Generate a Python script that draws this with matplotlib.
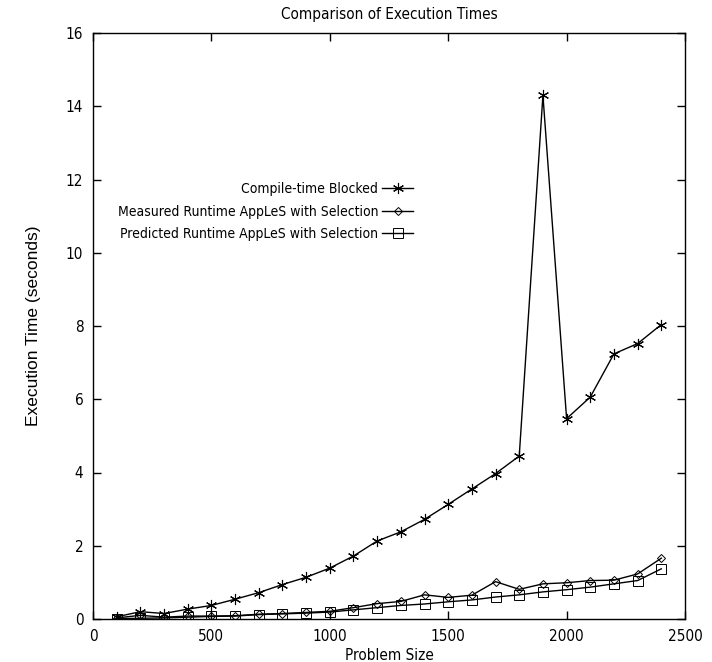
import numpy as np
import matplotlib
matplotlib.use("Agg")
import matplotlib.pyplot as plt
from matplotlib import font_manager

# problem sizes
sizes = [100, 200, 300, 400, 500, 600, 700, 800, 900, 1000, 1100, 1200,
         1300, 1400, 1500, 1600, 1700, 1800, 1900, 2000, 2100, 2200, 2300, 2400]

compile_blocked = [0.06, 0.2, 0.15, 0.27, 0.37, 0.54, 0.72, 0.94, 1.14, 1.39, 1.72, 2.13,
                   2.38, 2.72, 3.13, 3.55, 3.97, 4.45, 14.3, 5.47, 6.06, 7.24, 7.52, 8.04]
measured_sel = [0.03, 0.1, 0.05, 0.08, 0.08, 0.09, 0.13, 0.15, 0.18, 0.21, 0.31, 0.42,
                0.48, 0.66, 0.59, 0.65, 1.02, 0.81, 0.96, 0.99, 1.05, 1.06, 1.23, 1.66]
predicted_sel = [0.01, 0.02, 0.03, 0.05, 0.07, 0.08, 0.12, 0.14, 0.16, 0.19, 0.25, 0.31,
                 0.37, 0.41, 0.47, 0.52, 0.6, 0.66, 0.74, 0.8, 0.87, 0.96, 1.05, 1.37]

labels = ["Compile-time Blocked",
          "Measured Runtime AppLeS with Selection",
          "Predicted Runtime AppLeS with Selection"]

# narrow look like the old gnuplot output
narrow_fp = font_manager.FontProperties(family="DejaVu Sans", stretch="condensed", size=11)
legend_fp = font_manager.FontProperties(family="DejaVu Sans", stretch="condensed", size=10)

fig = plt.figure(figsize=(7.12, 6.62), dpi=100)
ax = fig.add_axes([93 / 712, 1 - 619 / 662, (685 - 93) / 712, (619 - 33) / 662])

ax.plot(sizes, compile_blocked, color='black', linewidth=1, marker=(6, 2, 0),
        markersize=8, mew=0.8, label=labels[0])
ax.plot(sizes, measured_sel, color='black', linewidth=1, marker='D', markersize=4.5,
        mfc='none', mew=0.7, label=labels[1])
ax.plot(sizes, predicted_sel, color='black', linewidth=1, marker='s', markersize=6.5,
        mfc='none', mew=0.7, label=labels[2])

ax.set_xlim(0, 2500)
ax.set_ylim(0, 16)
ax.set_xticks(np.arange(0, 2501, 500))
ax.set_yticks(np.arange(0, 17, 2))
ax.tick_params(direction='in', length=6, width=1, top=True, right=True, pad=7)
for lab in ax.get_xticklabels() + ax.get_yticklabels():
    lab.set_fontproperties(narrow_fp)
for sp in ax.spines.values():
    sp.set_linewidth(1)

ax.set_title("Comparison of Execution Times", fontproperties=narrow_fp, pad=10)
ax.set_xlabel("Problem Size", fontproperties=narrow_fp, labelpad=3)
ax.set_ylabel("Execution Time (seconds)", family=["Liberation Sans", "DejaVu Sans"],
              fontsize=12.5, labelpad=18)

ax.legend(loc='upper right', bbox_to_anchor=(413 / 712, 1 - 182 / 662),
          bbox_transform=fig.transFigure, frameon=False, markerfirst=False,
          prop=legend_fp, borderpad=0, handlelength=2.2,
          handletextpad=0.3, labelspacing=0.62, borderaxespad=0)

fig.savefig("out.png", dpi=100)
